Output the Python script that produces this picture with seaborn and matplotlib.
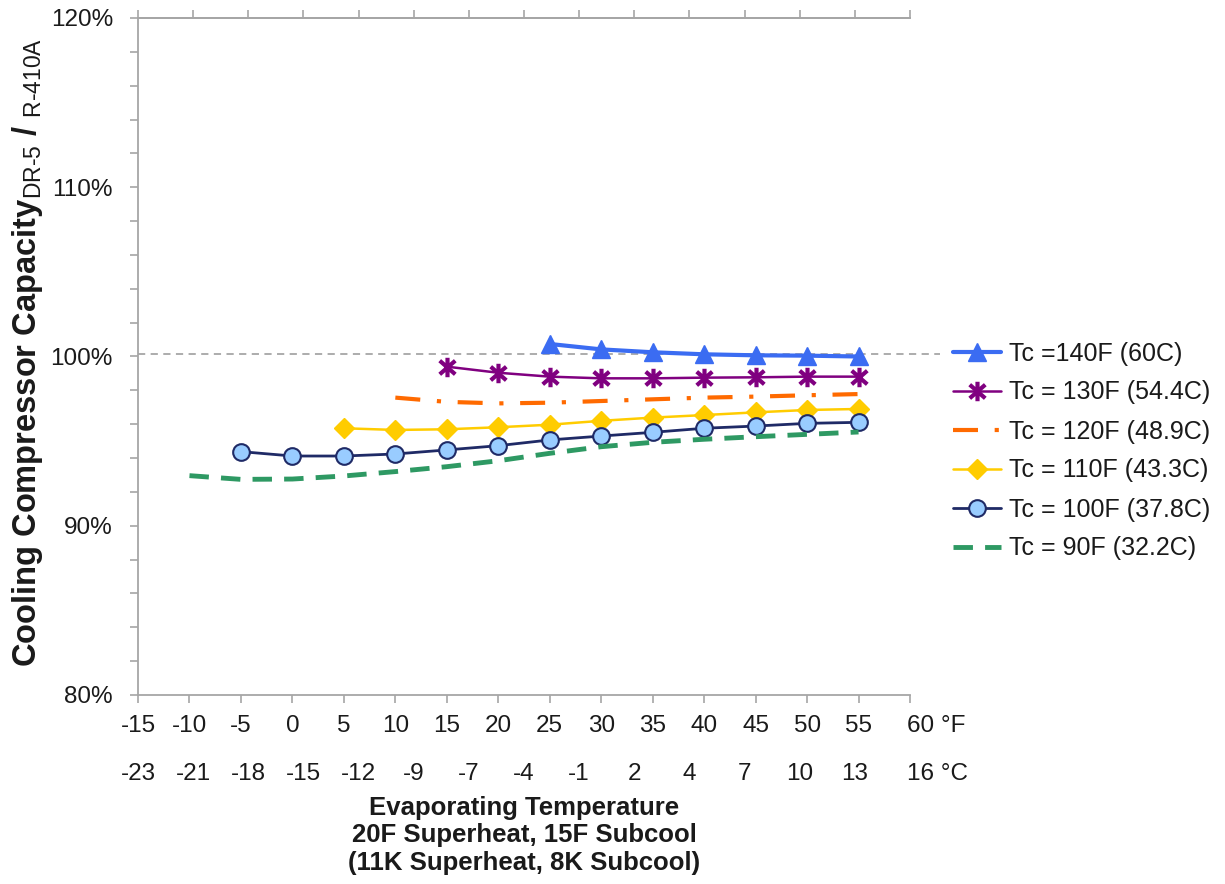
import matplotlib
matplotlib.use("Agg")
import matplotlib.pyplot as plt
import matplotlib.transforms as mtrans
import seaborn as sns
import pandas as pd
from matplotlib.path import Path

# ---------------- data ----------------
temp_f_140 = [25, 30, 35, 40, 45, 50, 55]
cap_140 = [100.74, 100.42, 100.25, 100.13, 100.07, 100.05, 100.00]

temp_f_130 = [15, 20, 25, 30, 35, 40, 45, 50, 55]
cap_130 = [99.40, 99.04, 98.81, 98.71, 98.71, 98.75, 98.77, 98.81, 98.81]

temp_f_120 = [10, 15, 20, 25, 30, 35, 40, 45, 50, 55]
cap_120 = [97.57, 97.32, 97.23, 97.27, 97.37, 97.47, 97.57, 97.63, 97.71, 97.78]

temp_f_110 = [5, 10, 15, 20, 25, 30, 35, 40, 45, 50, 55]
cap_110 = [95.76, 95.66, 95.70, 95.82, 95.97, 96.20, 96.39, 96.54, 96.70, 96.84, 96.90]

temp_f_100 = [-5, 0, 5, 10, 15, 20, 25, 30, 35, 40, 45, 50, 55]
cap_100 = [94.38, 94.12, 94.12, 94.24, 94.48, 94.73, 95.07, 95.30, 95.52, 95.76, 95.89, 96.05, 96.11]

temp_f_90 = [-10, -5, 0, 5, 10, 15, 20, 25, 30, 35, 40, 45, 50, 55]
cap_90 = [92.96, 92.74, 92.76, 92.94, 93.20, 93.49, 93.84, 94.28, 94.67, 94.93, 95.11, 95.26, 95.40, 95.54]

reference_level = 100.15

tick_f = [-15, -10, -5, 0, 5, 10, 15, 20, 25, 30, 35, 40, 45, 50, 55, 60]
tick_c = ["-23", "-21", "-18", "-15", "-12", "-9", "-7", "-4", "-1", "2", "4", "7", "10", "13", "16"]
y_major = [80, 90, 100, 110, 120]
y_minor = list(range(80, 121, 2))

labels = ["Tc =140F (60C)", "Tc = 130F (54.4C)", "Tc = 120F (48.9C)",
          "Tc = 110F (43.3C)", "Tc = 100F (37.8C)", "Tc = 90F (32.2C)"]

# ---------------- style ----------------
sns.set_theme(style="white")
plt.rcParams["font.family"] = ["Liberation Sans", "DejaVu Sans"]
plt.rcParams["mathtext.fontset"] = "custom"
plt.rcParams["mathtext.rm"] = "Liberation Sans"
plt.rcParams["mathtext.it"] = "Liberation Sans"
plt.rcParams["mathtext.bf"] = "Liberation Sans:bold"

spine_col = "#a6a6a6"
text_col = "#1a1a1a"
tick_fs = 17.5

fig = plt.figure(figsize=(12.25, 8.84), dpi=100)
ax = fig.add_axes([138 / 1225, 1 - 695 / 884, 772 / 1225, 677 / 884])

asterisk = Path(
    [(0, -1), (0, 1), (-0.8, -0.7), (0.8, 0.7), (-0.8, 0.7), (0.8, -0.7)],
    [Path.MOVETO, Path.LINETO, Path.MOVETO, Path.LINETO, Path.MOVETO, Path.LINETO],
)

series = [
    (temp_f_140, cap_140, dict(color="#3b6cf2", lw=3.0, marker="^", markersize=13,
                               markerfacecolor="#3b6cf2", markeredgecolor="#3b6cf2", markeredgewidth=1)),
    (temp_f_130, cap_130, dict(color="#800080", lw=1.8, marker=asterisk, markersize=14,
                               markerfacecolor="#800080", markeredgecolor="#800080", markeredgewidth=3.0)),
    (temp_f_120, cap_120, dict(color="#ff6a00", lw=3.0, linestyle=(0, (6, 4, 1, 4)), marker=None)),
    (temp_f_110, cap_110, dict(color="#ffcc00", lw=1.8, marker="D", markersize=10.5,
                               markerfacecolor="#ffcc00", markeredgecolor="#ffcc00", markeredgewidth=1)),
    (temp_f_100, cap_100, dict(color="#1f2a66", lw=2.0, marker="o", markersize=12,
                               markerfacecolor="#99ccff", markeredgecolor="#1f2a66", markeredgewidth=1.5)),
    (temp_f_90, cap_90, dict(color="#2e9963", lw=3.5, linestyle=(0, (4, 2.5)), marker=None)),
]

handles = []
for (xs, ys, kw), lab in zip(series, labels):
    df = pd.DataFrame({"Evaporating Temperature (F)": xs, "Capacity ratio (%)": ys})
    sns.lineplot(data=df, x="Evaporating Temperature (F)", y="Capacity ratio (%)",
                 ax=ax, label=lab, legend=False, **kw)
    handles.append(ax.lines[-1])

ax.axhline(reference_level, xmin=0, xmax=1.039, color="#a6a6a6", lw=1.3,
           linestyle=(0, (4, 3)), clip_on=False, zorder=1)

ax.set_xlim(-15, 60)
ax.set_ylim(80, 120)

# bottom (Fahrenheit) ticks
ax.set_xticks(tick_f)
f_labels = [str(f) for f in tick_f]
f_labels[-1] = f"{tick_f[-1]} °F"
ax.set_xticklabels(f_labels)
ax.set_yticks(y_major)
ax.set_yticklabels([f"{v}%" for v in y_major])
ax.set_yticks(y_minor, minor=True)

ax.tick_params(axis="x", which="both", direction="out", length=6, width=1.2,
               color=spine_col, labelsize=tick_fs, labelcolor=text_col, pad=8.5, bottom=True)
ax.tick_params(axis="y", which="both", direction="out", length=6, width=1.2,
               color=spine_col, labelsize=tick_fs, labelcolor=text_col, pad=12, left=True)

last = ax.get_xticklabels()[-1]
last.set_horizontalalignment("left")
last.set_transform(last.get_transform() + mtrans.ScaledTranslation(-3 / 100, 0, fig.dpi_scale_trans))

ax.spines["right"].set_visible(False)
for s in ["left", "bottom", "top"]:
    ax.spines[s].set_color(spine_col)
    ax.spines[s].set_linewidth(1.3)

# secondary (Celsius) axis: ticks on top, labels in second row at bottom
ax2 = ax.twiny()
ax2.set_xlim(0, len(tick_c) - 1)
ax2.set_xticks(list(range(len(tick_c))))
c_labels = list(tick_c)
c_labels[-1] = f"{tick_c[-1]} °C"
ax2.set_xticklabels(c_labels)
ax2.tick_params(axis="x", direction="out", length=6, width=1.2, color=spine_col,
                top=True, bottom=False, labeltop=False, labelbottom=True,
                labelsize=tick_fs, labelcolor=text_col, pad=43)
for s in ["right", "left", "bottom"]:
    ax2.spines[s].set_visible(False)
ax2.spines["top"].set_color(spine_col)
ax2.spines["top"].set_linewidth(1.3)
lastc = ax2.get_xticklabels()[-1]
lastc.set_horizontalalignment("left")
lastc.set_transform(lastc.get_transform() + mtrans.ScaledTranslation(-3 / 100, 0, fig.dpi_scale_trans))

ax.set_ylabel(r"Cooling Compressor Capacity$_{\text{DR-5}}$ / $_{\text{R-410A}}$",
              fontsize=23.5, fontweight="bold", color=text_col, va="center")
ax.yaxis.set_label_coords(-0.1425, 0.506)

ax.set_xlabel("Evaporating Temperature\n20F Superheat, 15F Subcool\n(11K Superheat, 8K Subcool)",
              fontsize=18.5, fontweight="bold", color=text_col, linespacing=1.18, va="top")
ax.xaxis.set_label_coords(0.5, -0.149)

leg = ax.legend(handles=handles, labels=labels, loc="center left",
                bbox_to_anchor=(953 / 1225, 1 - 451 / 884), bbox_transform=fig.transFigure,
                frameon=False, fontsize=18, handlelength=1.9, handletextpad=0.35,
                labelspacing=0.6, borderpad=0, borderaxespad=0, labelcolor=text_col)

fig.savefig("out.png", dpi=100)
